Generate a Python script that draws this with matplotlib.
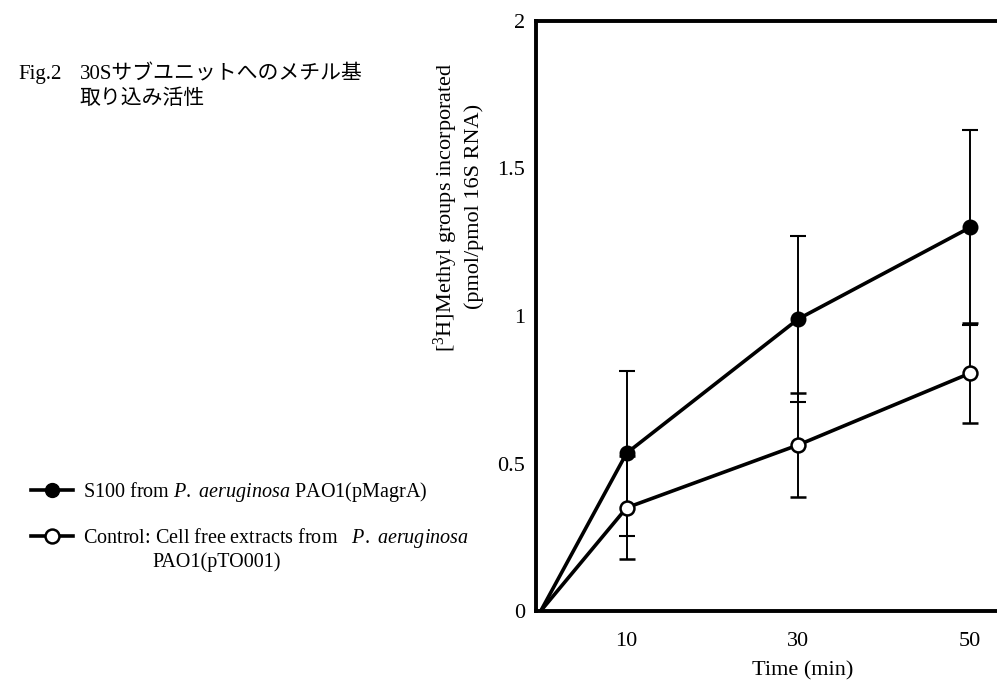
import matplotlib
matplotlib.use("Agg")
import matplotlib.pyplot as plt
from matplotlib.lines import Line2D

plt.rcParams['font.family'] = ['Liberation Serif', 'Noto Sans CJK JP']
plt.rcParams['mathtext.fontset'] = 'custom'
plt.rcParams['mathtext.rm'] = 'Liberation Serif'
plt.rcParams['mathtext.it'] = 'Liberation Serif:italic'
plt.rcParams['mathtext.bf'] = 'Liberation Serif:bold'

# Data
time_min = [0, 10, 30, 50]
s100_values = [0.0, 0.535, 0.99, 1.30]
s100_errors = [0.0, 0.28, 0.28, 0.33]
control_values = [0.0, 0.35, 0.563, 0.806]
control_errors = [0.0, 0.175, 0.177, 0.17]
x_ticks = [10, 30, 50]
y_ticks = [0, 0.5, 1, 1.5, 2]
y_tick_labels = ["0", "0.5", "1", "1.5", "2"]

s100_label = "S100 from $\\it{P.}$ $\\it{aeruginosa}$ PAO1(pMagrA)"
control_label = "Control: Cell free extracts from   $\\it{P.}$ $\\it{aeruginosa}$"
control_label_line2 = "PAO1(pTO001)"
fig_label = "Fig.2"
title_text = "30Sサブユニットへのメチル基\n取り込み活性"

fig = plt.figure(figsize=(9.97, 6.88), dpi=100)
ax = fig.add_axes([0.5376, 0.1119, 0.4624 + 0.01, 0.8576])

common = dict(color='black', lw=2.6, marker='o', ms=10, ecolor='black',
              elinewidth=1.4, capsize=6, capthick=1.8)
l1 = ax.errorbar(time_min, s100_values, yerr=s100_errors, mfc='black', mec='black',
                 mew=1.5, zorder=3, **common)
l2 = ax.errorbar(time_min, control_values, yerr=control_errors, mfc='white',
                 mec='black', mew=1.8, zorder=4, **common)
for cont in (l1, l2):
    cont[0].set_markevery([1, 2, 3])

ax.set_xlim(-0.55, 54.3)
ax.set_ylim(0, 2)
ax.set_xticks(x_ticks)
ax.set_xticklabels([str(t) for t in x_ticks], fontsize=16)
ax.set_yticks(y_ticks)
ax.set_yticklabels(y_tick_labels, fontsize=16)
ax.tick_params(axis='y', length=0, pad=8)
ax.tick_params(axis='x', length=0, pad=15)
for s in ['left', 'bottom', 'top']:
    ax.spines[s].set_linewidth(2.8)
ax.spines['right'].set_visible(False)

ax.set_xlabel("Time (min)", fontsize=16)
ax.xaxis.set_label_coords(0.566, -0.085)
ax.set_ylabel("[$^{3}$H]Methyl groups incorporated\n(pmol/pmol 16S RNA)",
              fontsize=16, linespacing=1.3)
ax.yaxis.set_label_coords(-0.11, 0.685)

fig.text(0.018, 0.905, fig_label, fontsize=15, va='top', ha='left')
fig.text(0.08, 0.905, title_text, fontsize=15, va='top', ha='left', linespacing=1.35)

h1 = Line2D([], [], color='black', lw=2.6, marker='o', ms=10, mfc='black', mec='black')
h2 = Line2D([], [], color='black', lw=2.6, marker='o', ms=10, mfc='white', mec='black', mew=1.8)
fig.legend(handles=[h1, h2], labels=[s100_label, control_label], loc='upper left',
           bbox_to_anchor=(0.013, 0.329), frameon=False, fontsize=14.5,
           handlelength=2.1, handletextpad=0.5, labelspacing=1.12)
fig.text(0.153, 1 - 562 / 688, control_label_line2, fontsize=14.5, va='center', ha='left')

fig.savefig("out.png", dpi=100)
